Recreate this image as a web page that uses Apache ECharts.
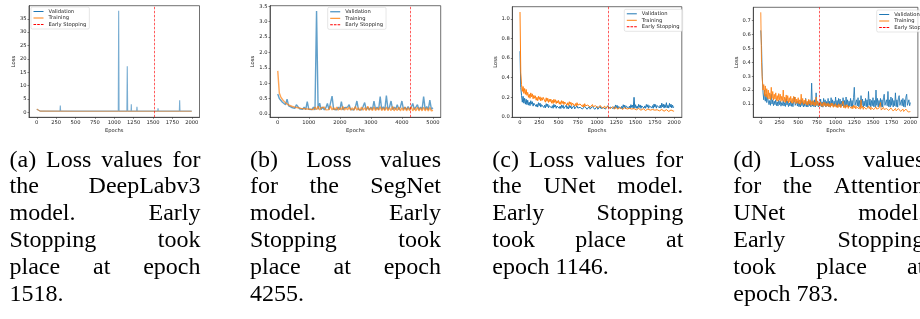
<!DOCTYPE html>
<html>
<head>
<meta charset="utf-8">
<script src="https://cdn.jsdelivr.net/npm/echarts@6/dist/echarts.min.js"></script>
<style>
html, body { margin: 0; padding: 0; background: #fff; }
#chart { width: 920px; height: 319px; }
</style>
</head>
<body>
<div id="chart"></div>
<script>
// tick values
var epochTicks2000 = [0, 250, 500, 750, 1000, 1250, 1500, 1750, 2000];
var epochTicks5000 = [0, 1000, 2000, 3000, 4000, 5000];
var deeplabYTicks = [0, 5, 10, 15, 20, 25, 30, 35];
var segnetYTicks = [0, 0.5, 1, 1.5, 2, 2.5, 3, 3.5];
var unetYTicks = [0, 0.2, 0.4, 0.6, 0.8, 1.0];
var attnYTicks = [0.1, 0.2, 0.3, 0.4, 0.5, 0.6, 0.7];

var seriesNames = ['Validation', 'Training', 'Early Stopping'];
var earlyStop = [1518, 4255, 1146, 783];

// (a) DeepLabv3: [epoch, loss]
var deeplabVal = [[0, 1.1], [20, 0.6], [50, 0.4], [300, 0.4], [304, 2.5], [308, 0.4], [422, 0.4], [425, 0.9], [428, 0.4],
  [667, 0.4], [670, 0.8], [673, 0.4], [1052, 0.4], [1057, 38], [1062, 0.4], [1163, 0.4], [1168, 17.2], [1173, 0.4],
  [1217, 0.4], [1220, 3.0], [1223, 0.4], [1289, 0.4], [1293, 2.0], [1297, 0.4], [1359, 0.4], [1362, 0.9], [1365, 0.4],
  [1561, 0.4], [1565, 1.5], [1569, 0.4], [1807, 0.4], [1810, 0.6], [1813, 0.4], [1840, 0.4], [1844, 4.5], [1848, 0.4],
  [1918, 0.4], [1921, 1.1], [1924, 0.4], [2000, 0.4]];
var deeplabTrain = [[0, 1.2], [15, 0.5], [40, 0.4], [500, 0.38], [1000, 0.36], [1500, 0.35], [2000, 0.35]];

// (b) SegNet: one value every 50 epochs
var segnetStep = 50;
var segnetVal = [0.65, 0.5, 0.45, 0.38, 0.36, 0.3, 0.48, 0.26, 0.25, 0.21, 0.22, 0.18, 0.3, 0.34, 0.17, 0.2, 0.15, 0.22, 0.14, 0.4,
  0.15, 0.2, 0.14, 0.22, 0.13, 3.35, 0.15, 0.35, 0.14, 0.22, 0.13, 0.2, 0.34, 0.14, 0.2, 0.58, 0.15, 0.21, 0.13, 0.22,
  0.14, 0.4, 0.13, 0.2, 0.14, 0.22, 0.3, 0.14, 0.2, 0.13, 0.22, 0.42, 0.14, 0.2, 0.13, 0.24, 0.37, 0.14, 0.21, 0.13,
  0.22, 0.14, 0.42, 0.15, 0.22, 0.14, 0.56, 0.15, 0.23, 0.14, 0.6, 0.15, 0.22, 0.42, 0.14, 0.22, 0.15, 0.3, 0.14, 0.22,
  0.42, 0.15, 0.22, 0.14, 0.24, 0.15, 0.22, 0.34, 0.15, 0.22, 0.3, 0.14, 0.22, 0.15, 0.56, 0.15, 0.24, 0.14, 0.45, 0.15, 0.2];
var segnetTrain = [1.4, 0.68, 0.55, 0.47, 0.42, 0.36, 0.34, 0.29, 0.3, 0.25, 0.26, 0.22, 0.24, 0.2, 0.23, 0.18, 0.22, 0.17, 0.21, 0.16,
  0.22, 0.15, 0.2, 0.14, 0.22, 0.14, 0.25, 0.13, 0.2, 0.14, 0.22, 0.13, 0.19, 0.14, 0.26, 0.13, 0.2, 0.13, 0.22, 0.12,
  0.2, 0.13, 0.24, 0.12, 0.2, 0.13, 0.22, 0.12, 0.2, 0.12, 0.24, 0.12, 0.2, 0.11, 0.22, 0.12, 0.2, 0.11, 0.25, 0.12,
  0.2, 0.11, 0.22, 0.11, 0.2, 0.12, 0.23, 0.11, 0.2, 0.11, 0.22, 0.11, 0.2, 0.11, 0.24, 0.1, 0.2, 0.11, 0.22, 0.1,
  0.2, 0.11, 0.22, 0.1, 0.2, 0.11, 0.23, 0.1, 0.2, 0.1, 0.22, 0.1, 0.2, 0.1, 0.22, 0.1, 0.2, 0.1, 0.21, 0.1, 0.12];

// (c) UNet: one value every 10 epochs (one row = 100 epochs)
var unetStep = 10;
var unetVal = [
  0.67, 0.3, 0.22, 0.15, 0.21, 0.14, 0.19, 0.13, 0.18, 0.125,
  0.17, 0.12, 0.15, 0.115, 0.165, 0.13, 0.155, 0.11, 0.14, 0.12,
  0.15, 0.105, 0.13, 0.1, 0.145, 0.115, 0.14, 0.1, 0.125, 0.105,
  0.14, 0.095, 0.12, 0.092, 0.135, 0.105, 0.13, 0.093, 0.115, 0.1,
  0.13, 0.09, 0.115, 0.088, 0.128, 0.1, 0.122, 0.088, 0.11, 0.095,
  0.125, 0.087, 0.11, 0.085, 0.122, 0.095, 0.118, 0.085, 0.105, 0.09,
  0.12, 0.084, 0.105, 0.082, 0.118, 0.092, 0.114, 0.082, 0.1, 0.088,
  0.115, 0.082, 0.1, 0.08, 0.113, 0.09, 0.11, 0.08, 0.098, 0.085,
  0.11, 0.08, 0.097, 0.078, 0.108, 0.088, 0.106, 0.078, 0.095, 0.083,
  0.108, 0.079, 0.095, 0.077, 0.106, 0.086, 0.104, 0.077, 0.093, 0.082,
  0.106, 0.078, 0.094, 0.077, 0.108, 0.086, 0.103, 0.078, 0.095, 0.082,
  0.112, 0.08, 0.1, 0.081, 0.115, 0.09, 0.11, 0.08, 0.1, 0.086,
  0.12, 0.084, 0.105, 0.083, 0.122, 0.094, 0.118, 0.084, 0.106, 0.09,
  0.125, 0.086, 0.108, 0.085, 0.124, 0.096, 0.12, 0.086, 0.11, 0.092,
  0.127, 0.087, 0.11, 0.086, 0.125, 0.097, 0.12, 0.087, 0.2, 0.092,
  0.124, 0.088, 0.11, 0.087, 0.128, 0.098, 0.122, 0.087, 0.112, 0.094,
  0.13, 0.089, 0.112, 0.088, 0.127, 0.099, 0.124, 0.088, 0.114, 0.095,
  0.128, 0.09, 0.115, 0.088, 0.132, 0.1, 0.126, 0.089, 0.116, 0.096,
  0.135, 0.091, 0.12, 0.09, 0.14, 0.102, 0.13, 0.09, 0.125, 0.097,
  0.145, 0.092, 0.118, 0.09, 0.138, 0.1, 0.13, 0.091, 0.12, 0.096,
  0.1];
var unetTrain = [
  1.07, 0.45, 0.33, 0.26, 0.31, 0.24, 0.29, 0.23, 0.28, 0.22,
  0.25, 0.2, 0.23, 0.19, 0.245, 0.205, 0.235, 0.185, 0.22, 0.19,
  0.215, 0.17, 0.2, 0.165, 0.21, 0.178, 0.205, 0.163, 0.195, 0.17,
  0.2, 0.22, 0.18, 0.15, 0.195, 0.16, 0.19, 0.148, 0.18, 0.155,
  0.182, 0.14, 0.17, 0.137, 0.18, 0.148, 0.175, 0.136, 0.165, 0.142,
  0.168, 0.13, 0.155, 0.127, 0.166, 0.138, 0.16, 0.126, 0.152, 0.132,
  0.156, 0.12, 0.145, 0.117, 0.155, 0.128, 0.15, 0.116, 0.142, 0.122,
  0.146, 0.112, 0.136, 0.109, 0.145, 0.12, 0.14, 0.108, 0.132, 0.114,
  0.136, 0.104, 0.126, 0.101, 0.135, 0.112, 0.13, 0.1, 0.122, 0.106,
  0.127, 0.098, 0.118, 0.095, 0.126, 0.105, 0.122, 0.094, 0.114, 0.1,
  0.118, 0.092, 0.11, 0.089, 0.117, 0.098, 0.113, 0.088, 0.106, 0.094,
  0.11, 0.087, 0.103, 0.084, 0.109, 0.092, 0.106, 0.083, 0.1, 0.088,
  0.103, 0.083, 0.097, 0.08, 0.102, 0.088, 0.1, 0.079, 0.094, 0.084,
  0.097, 0.079, 0.092, 0.076, 0.096, 0.084, 0.094, 0.075, 0.089, 0.08,
  0.092, 0.075, 0.087, 0.072, 0.091, 0.08, 0.089, 0.071, 0.085, 0.076,
  0.088, 0.072, 0.083, 0.069, 0.087, 0.076, 0.085, 0.068, 0.081, 0.073,
  0.084, 0.068, 0.079, 0.065, 0.083, 0.072, 0.081, 0.064, 0.077, 0.069,
  0.08, 0.065, 0.075, 0.062, 0.079, 0.069, 0.077, 0.061, 0.073, 0.066,
  0.077, 0.062, 0.072, 0.059, 0.076, 0.066, 0.074, 0.058, 0.07, 0.063,
  0.074, 0.058, 0.069, 0.055, 0.073, 0.062, 0.071, 0.054, 0.067, 0.059,
  0.06];

// (d) Attention UNet: one value every 10 epochs (one row = 100 epochs)
var attnStep = 10;
var attnVal = [
  0.63, 0.52, 0.3, 0.18, 0.13, 0.2, 0.12, 0.17, 0.11, 0.15,
  0.14, 0.095, 0.125, 0.09, 0.17, 0.1, 0.13, 0.088, 0.12, 0.095,
  0.13, 0.088, 0.115, 0.085, 0.128, 0.095, 0.122, 0.084, 0.11, 0.09,
  0.125, 0.085, 0.11, 0.082, 0.14, 0.092, 0.12, 0.081, 0.108, 0.087,
  0.122, 0.083, 0.108, 0.08, 0.12, 0.15, 0.09, 0.08, 0.118, 0.085,
  0.12, 0.08, 0.105, 0.078, 0.13, 0.088, 0.118, 0.078, 0.106, 0.083,
  0.14, 0.08, 0.11, 0.078, 0.125, 0.088, 0.12, 0.078, 0.25, 0.085,
  0.12, 0.08, 0.13, 0.078, 0.18, 0.088, 0.122, 0.078, 0.11, 0.085,
  0.135, 0.08, 0.115, 0.077, 0.14, 0.09, 0.13, 0.078, 0.118, 0.085,
  0.14, 0.08, 0.12, 0.077, 0.145, 0.09, 0.13, 0.078, 0.12, 0.085,
  0.15, 0.08, 0.125, 0.077, 0.14, 0.09, 0.135, 0.078, 0.12, 0.086,
  0.145, 0.08, 0.125, 0.077, 0.15, 0.092, 0.13, 0.078, 0.12, 0.086,
  0.14, 0.08, 0.125, 0.077, 0.145, 0.22, 0.09, 0.078, 0.13, 0.086,
  0.145, 0.08, 0.125, 0.077, 0.16, 0.09, 0.135, 0.078, 0.12, 0.087,
  0.14, 0.08, 0.13, 0.077, 0.19, 0.09, 0.135, 0.078, 0.125, 0.087,
  0.145, 0.08, 0.125, 0.077, 0.2, 0.09, 0.14, 0.078, 0.125, 0.087,
  0.14, 0.08, 0.13, 0.077, 0.145, 0.17, 0.09, 0.078, 0.13, 0.087,
  0.19, 0.08, 0.13, 0.077, 0.15, 0.09, 0.14, 0.078, 0.125, 0.087,
  0.18, 0.08, 0.13, 0.077, 0.145, 0.16, 0.09, 0.078, 0.13, 0.087,
  0.14, 0.08, 0.13, 0.077, 0.15, 0.17, 0.09, 0.078, 0.13, 0.087,
  0.11];
var attnTrain = [
  0.76, 0.4, 0.28, 0.2, 0.24, 0.16, 0.23, 0.15, 0.21, 0.14,
  0.2, 0.135, 0.18, 0.13, 0.22, 0.14, 0.19, 0.128, 0.17, 0.135,
  0.18, 0.125, 0.16, 0.12, 0.175, 0.13, 0.17, 0.118, 0.155, 0.125,
  0.2, 0.115, 0.15, 0.11, 0.165, 0.12, 0.16, 0.108, 0.145, 0.115,
  0.155, 0.108, 0.14, 0.104, 0.155, 0.113, 0.15, 0.102, 0.135, 0.108,
  0.145, 0.1, 0.13, 0.097, 0.17, 0.106, 0.14, 0.096, 0.128, 0.1,
  0.135, 0.094, 0.12, 0.091, 0.133, 0.1, 0.13, 0.09, 0.118, 0.095,
  0.125, 0.089, 0.112, 0.086, 0.15, 0.094, 0.12, 0.085, 0.11, 0.09,
  0.115, 0.084, 0.105, 0.081, 0.114, 0.089, 0.11, 0.08, 0.102, 0.085,
  0.108, 0.08, 0.098, 0.077, 0.107, 0.085, 0.104, 0.076, 0.096, 0.081,
  0.102, 0.076, 0.093, 0.073, 0.101, 0.08, 0.098, 0.072, 0.091, 0.077,
  0.12, 0.072, 0.088, 0.069, 0.096, 0.076, 0.093, 0.068, 0.086, 0.073,
  0.092, 0.068, 0.084, 0.065, 0.091, 0.072, 0.088, 0.064, 0.082, 0.069,
  0.088, 0.065, 0.08, 0.062, 0.13, 0.069, 0.085, 0.061, 0.078, 0.066,
  0.084, 0.062, 0.076, 0.059, 0.083, 0.066, 0.081, 0.058, 0.074, 0.063,
  0.08, 0.059, 0.073, 0.056, 0.079, 0.063, 0.077, 0.055, 0.07, 0.06,
  0.11, 0.056, 0.069, 0.053, 0.075, 0.06, 0.073, 0.052, 0.067, 0.057,
  0.072, 0.053, 0.066, 0.05, 0.071, 0.057, 0.069, 0.049, 0.063, 0.054,
  0.068, 0.05, 0.062, 0.047, 0.067, 0.054, 0.065, 0.046, 0.06, 0.051,
  0.064, 0.046, 0.058, 0.043, 0.063, 0.05, 0.061, 0.042, 0.056, 0.047,
  0.045];

var captions = [
  ['(a) Loss values for', 'the DeepLabv3', 'model. Early', 'Stopping took', 'place at epoch', '1518.'],
  ['(b) Loss values', 'for the SegNet', 'model. Early', 'Stopping took', 'place at epoch', '4255.'],
  ['(c) Loss values for', 'the UNet model.', 'Early Stopping', 'took place at', 'epoch 1146.'],
  ['(d) Loss values', 'for the Attention', 'UNet model.', 'Early Stopping', 'took place at', 'epoch 783.']
];

function sampled(values, step) {
  return values.map(function (v, i) { return [i * step, v]; });
}

var panels = [
  { grid: { left: 29, top: 5.7, width: 170.5, height: 111.6 }, x: [-100, 2100], xTicks: epochTicks2000,
    y: [-1.9, 39.9], yTicks: deeplabYTicks, dec: 0, val: deeplabVal, train: deeplabTrain, alpha: 0.6, lw: 1.1,
    legend: { left: 31, top: 7 } },
  { grid: { left: 270, top: 5.7, width: 170.7, height: 111.6 }, x: [-250, 5250], xTicks: epochTicks5000,
    y: [-0.11, 3.52], yTicks: segnetYTicks, dec: 1, val: sampled(segnetVal, segnetStep), train: sampled(segnetTrain, segnetStep),
    alpha: 0.7, lw: 1.4, legend: { left: 327.7, top: 7.3 } },
  { grid: { left: 512.3, top: 6.7, width: 169.5, height: 110.6 }, x: [-100, 2100], xTicks: epochTicks2000,
    y: [-0.004, 1.124], yTicks: unetYTicks, dec: 1, val: sampled(unetVal, unetStep), train: sampled(unetTrain, unetStep),
    alpha: 1, lw: 1, legend: { left: 624.3, top: 9.3 } },
  { grid: { left: 753.3, top: 7.3, width: 169.4, height: 110 }, x: [-100, 2100], xTicks: epochTicks2000,
    y: [0.004, 0.796], yTicks: attnYTicks, dec: 1, val: sampled(attnVal, attnStep), train: sampled(attnTrain, attnStep),
    alpha: 0.85, lw: 1, legend: { left: 876.7, top: 10 } }
];

var tickFont = { fontFamily: 'DejaVu Sans', fontSize: 5.2, color: '#222' };
var solidIcon = 'path://M0,0H10V1H0Z';
var dashIcon = 'path://M0,0H2.6V1H0Z M3.7,0H6.3V1H3.7Z M7.4,0H10V1H7.4Z';
var grids = [], xAxes = [], yAxes = [], series = [], legends = [];

panels.forEach(function (p, i) {
  grids.push(Object.assign({ show: true, borderColor: '#333', borderWidth: 0.7, backgroundColor: 'transparent' }, p.grid));
  xAxes.push({
    type: 'value', gridIndex: i, min: p.x[0], max: p.x[1],
    name: 'Epochs', nameLocation: 'middle', nameGap: 11, nameTextStyle: tickFont,
    axisLine: { show: true, onZero: false, lineStyle: { color: '#333', width: 0.7 } },
    axisTick: { show: true, length: 1.5, customValues: p.xTicks, lineStyle: { color: '#333', width: 0.6 } },
    axisLabel: Object.assign({ customValues: p.xTicks, margin: 2.5, formatter: function (v) { return String(v); } }, tickFont),
    splitLine: { show: false }
  });
  yAxes.push({
    type: 'value', gridIndex: i, min: p.y[0], max: p.y[1],
    name: 'Loss', nameLocation: 'middle', nameGap: 13, nameTextStyle: tickFont,
    axisLine: { show: true, onZero: false, lineStyle: { color: '#333', width: 0.7 } },
    axisTick: { show: true, length: 1.5, customValues: p.yTicks, lineStyle: { color: '#333', width: 0.6 } },
    axisLabel: Object.assign({ customValues: p.yTicks, margin: 2.5, formatter: function (v) { return v.toFixed(p.dec); } }, tickFont),
    splitLine: { show: false }
  });
  series.push({
    type: 'line', name: 'Validation', xAxisIndex: i, yAxisIndex: i, data: p.val,
    symbol: 'none', animation: false, silent: true,
    itemStyle: { color: '#1f77b4' }, lineStyle: { color: '#1f77b4', width: p.lw, opacity: p.alpha }
  });
  series.push({
    type: 'line', name: 'Training', xAxisIndex: i, yAxisIndex: i, data: p.train,
    symbol: 'none', animation: false, silent: true,
    itemStyle: { color: '#ff7f0e' }, lineStyle: { color: '#ff7f0e', width: p.lw, opacity: p.alpha }
  });
  series.push({
    type: 'line', name: 'Early Stopping', xAxisIndex: i, yAxisIndex: i, data: [],
    symbol: 'none', animation: false, silent: true,
    itemStyle: { color: '#ff0000' }, lineStyle: { color: '#ff0000', width: 0.8, type: [2.5, 1.5] },
    markLine: {
      symbol: 'none', silent: true, animation: false, label: { show: false },
      lineStyle: { color: '#ff0000', width: 0.8, type: [2.5, 1.5], opacity: 0.8 },
      data: [{ xAxis: earlyStop[i] }]
    }
  });
  legends.push({
    orient: 'vertical', left: p.legend.left, top: p.legend.top,
    data: [
      { name: seriesNames[0], icon: solidIcon },
      { name: seriesNames[1], icon: solidIcon },
      { name: seriesNames[2], icon: dashIcon }
    ],
    itemWidth: 10, itemHeight: 1, itemGap: 1.5, padding: [2, 3, 2, 2.5],
    itemStyle: { borderWidth: 0 }, lineStyle: { width: 0 },
    backgroundColor: 'rgba(255,255,255,0.8)', borderColor: '#ccc', borderWidth: 0.5, borderRadius: 1.5,
    textStyle: tickFont
  });
});

// captions, justified like the LaTeX subcaptions
var capFont = '24px "Liberation Serif"';
var capLeft = [9.5, 250, 492.3, 733.3];
var capWidth = 191;
var ctx = document.createElement('canvas').getContext('2d');
ctx.font = capFont;
var spaceW = ctx.measureText(' ').width;
var graphics = [];
captions.forEach(function (lines, c) {
  lines.forEach(function (line, r) {
    var words = line.split(' ');
    var widths = words.map(function (w) { return ctx.measureText(w).width; });
    var total = widths.reduce(function (a, b) { return a + b; }, 0);
    var last = r === lines.length - 1;
    var gap = (last || words.length < 2) ? spaceW : (capWidth - total) / (words.length - 1);
    var x = capLeft[c];
    words.forEach(function (w, k) {
      graphics.push({
        type: 'text', x: x, y: 160.4 + r * 26.8, silent: true,
        style: { text: w, font: capFont, fill: '#000', verticalAlign: 'middle' }
      });
      x += widths[k] + gap;
    });
  });
});

var chart = echarts.init(document.getElementById('chart'));
chart.setOption({
  animation: false,
  grid: grids,
  xAxis: xAxes,
  yAxis: yAxes,
  legend: legends,
  series: series,
  graphic: graphics
});
</script>
</body>
</html>
